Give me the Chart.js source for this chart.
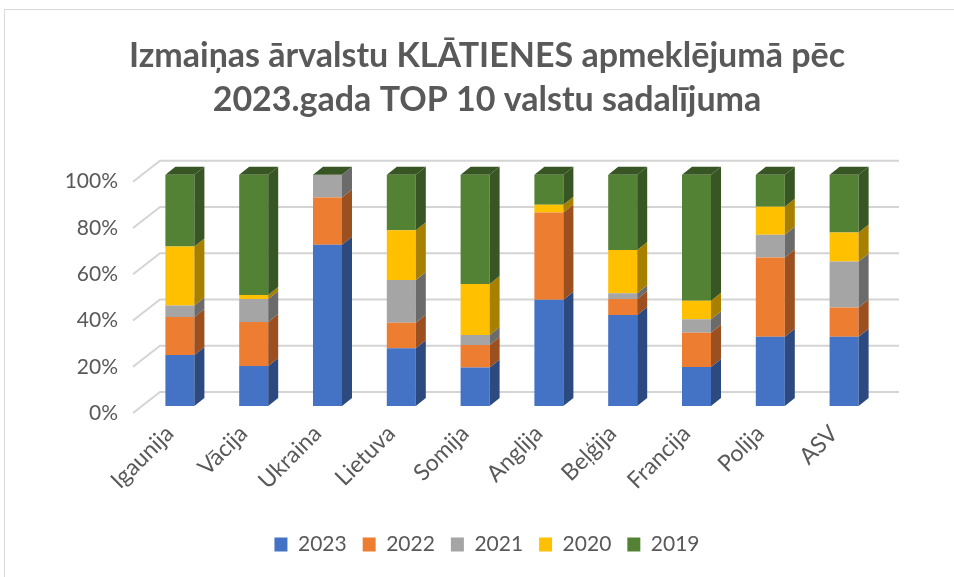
<!DOCTYPE html>
<html>
<head>
<meta charset="utf-8">
<title>Izmaiņas ārvalstu KLĀTIENES apmeklējumā</title>
<script src="https://cdn.jsdelivr.net/npm/chart.js@4/dist/chart.umd.min.js"></script>
<style>
  html, body { margin: 0; padding: 0; background: #fff; }
  #wrap { position: relative; width: 954px; height: 577px; overflow: hidden; }
  #frame { position: absolute; left: 4px; top: 9px; right: -10px; bottom: -10px;
           border-left: 1px solid #d9d9d9; border-top: 1px solid #d9d9d9; }
  #chart { position: absolute; left: 0; top: 0; }
</style>
</head>
<body>
<div id="wrap">
  <div id="frame"></div>
  <canvas id="chart" width="954" height="577"></canvas>
</div>
<script>
// values, percent of each country's visits
const categories = ['Igaunija', 'Vācija', 'Ukraina', 'Lietuva', 'Somija', 'Anglija', 'Beļģija', 'Francija', 'Polija', 'ASV'];
const years = ['2023', '2022', '2021', '2020', '2019'];
const val2023 = [22, 17.3, 69.7, 25, 16.7, 45.9, 39.4, 16.9, 29.9, 29.9];
const val2022 = [16.5, 19, 20.5, 11, 9.7, 37.8, 6.9, 14.8, 34.3, 12.7];
const val2021 = [5, 10, 9.8, 18.5, 4.3, 0, 2.5, 5.8, 9.8, 19.9];
const val2020 = [25.5, 1.7, 0, 21.5, 22, 3.3, 18.7, 8, 12.1, 12.5];
const val2019 = [31, 52, 0, 24, 47.3, 13, 32.5, 54.5, 13.9, 25];
const yTicks = [0, 20, 40, 60, 80, 100];

const frontColors = ['#4472C4', '#ED7D31', '#A5A5A5', '#FFC000', '#548235'];
const sideColors = ['#2C4A80', '#9C4F1F', '#6B6B6B', '#A88000', '#375623'];
const textColor = '#595959';

const depthX = 10, depthY = 8;

// side and top faces of the columns, taken from the drawn bar elements
const bars3d = {
  id: 'bars3d',
  afterDatasetsDraw(chart) {
    const ctx = chart.ctx;
    ctx.save();
    chart.data.datasets.forEach((ds, di) => {
      const meta = chart.getDatasetMeta(di);
      meta.data.forEach(bar => {
        const p = bar.getProps(['x', 'y', 'base', 'width'], true);
        const top = Math.min(p.y, p.base), bottom = Math.max(p.y, p.base);
        if (bottom - top < 0.1) return;
        const r = p.x + p.width / 2;
        ctx.fillStyle = sideColors[di];
        ctx.beginPath();
        ctx.moveTo(r, bottom);
        ctx.lineTo(r, top);
        ctx.lineTo(r + depthX, top - depthY);
        ctx.lineTo(r + depthX, bottom - depthY);
        ctx.closePath();
        ctx.fill();
      });
    });
    const last = chart.getDatasetMeta(chart.data.datasets.length - 1);
    last.data.forEach(bar => {
      const p = bar.getProps(['x', 'y', 'width'], true);
      const l = p.x - p.width / 2, r = p.x + p.width / 2;
      ctx.fillStyle = sideColors[sideColors.length - 1];
      ctx.beginPath();
      ctx.moveTo(l, p.y);
      ctx.lineTo(r, p.y);
      ctx.lineTo(r + depthX, p.y - depthY);
      ctx.lineTo(l + depthX, p.y - depthY);
      ctx.closePath();
      ctx.fill();
    });
    ctx.restore();
  }
};

// back wall gridlines and the slanted side-wall lines
const wall = {
  id: 'wall',
  beforeDatasetsDraw(chart) {
    const { ctx, chartArea } = chart;
    const ys = chart.scales.y;
    ctx.save();
    ctx.strokeStyle = '#d4d4d4';
    ctx.lineWidth = 2;
    yTicks.forEach(v => {
      const py = ys.getPixelForValue(v);
      ctx.beginPath();
      ctx.moveTo(chartArea.left - 10, py + 7);
      ctx.lineTo(chartArea.left + 17, py - 14);
      ctx.lineTo(chartArea.right + 18, py - 14);
      ctx.stroke();
    });
    ctx.restore();
  }
};

const series = [val2023, val2022, val2021, val2020, val2019];

new Chart(document.getElementById('chart'), {
  type: 'bar',
  data: {
    labels: categories,
    datasets: years.map((y, i) => ({
      label: y,
      data: series[i],
      backgroundColor: frontColors[i],
      borderWidth: 0,
      barPercentage: 0.393,
      categoryPercentage: 1
    }))
  },
  options: {
    responsive: false,
    animation: false,
    layout: { padding: { left: 20, right: 0, top: 0, bottom: 12 } },
    scales: {
      x: {
        stacked: true,
        grid: { display: false },
        border: { display: false },
        ticks: {
          color: textColor,
          font: { family: 'Lato', size: 23 },
          minRotation: 45,
          maxRotation: 45,
          autoSkip: false,
          padding: 6,
          labelOffset: -10
        },
        afterFit(scale) { scale.height = 112; }
      },
      y: {
        stacked: true,
        min: 0,
        max: 100,
        grid: { display: false },
        border: { display: false },
        afterBuildTicks(scale) { scale.ticks = yTicks.map(v => ({ value: v })); },
        ticks: {
          color: textColor,
          font: { family: 'Lato', size: 21 },
          padding: 17,
          labelOffset: 7,
          callback: v => v + '%'
        },
        afterFit(scale) { scale.width = 123; }
      },
      // empty space to the right of the plot
      yr: {
        position: 'right',
        grid: { display: false },
        border: { display: false },
        ticks: { display: false },
        afterFit(scale) { scale.width = 73; }
      }
    },
    plugins: {
      title: {
        display: true,
        text: ['Izmaiņas ārvalstu KLĀTIENES apmeklējumā pēc', '2023.gada TOP 10 valstu sadalījuma'],
        color: textColor,
        font: { family: 'Lato', size: 34, weight: 'bold', lineHeight: 1.29 },
        padding: { top: 34, bottom: 53 }
      },
      legend: {
        position: 'bottom',
        labels: {
          color: textColor,
          font: { family: 'Lato', size: 21 },
          boxWidth: 13,
          boxHeight: 14,
          padding: 16
        }
      },
      tooltip: { enabled: false }
    }
  },
  plugins: [wall, bars3d]
});
</script>
</body>
</html>
